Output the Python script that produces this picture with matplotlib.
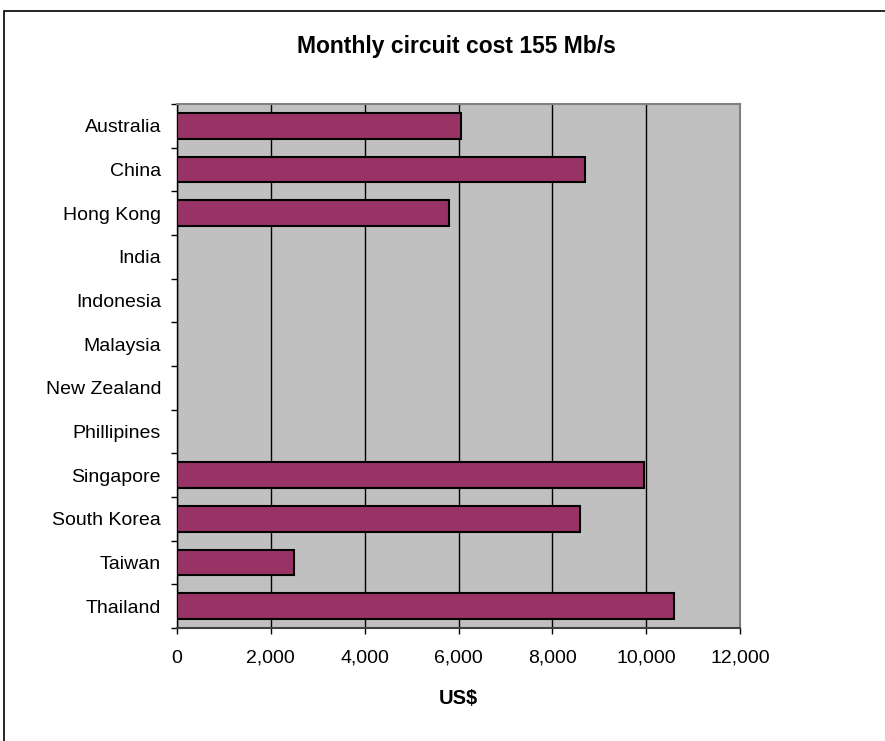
import numpy as np
import matplotlib
matplotlib.use("Agg")
import matplotlib.pyplot as plt
from matplotlib.patches import Rectangle

plt.rcParams['font.family'] = ['Liberation Sans', 'DejaVu Sans']

countries = ["Australia", "China", "Hong Kong", "India", "Indonesia", "Malaysia",
             "New Zealand", "Phillipines", "Singapore", "South Korea", "Taiwan", "Thailand"]
cost_usd = [6050, 8700, 5800, np.nan, np.nan, np.nan,
            np.nan, np.nan, 9950, 8600, 2500, 10600]
x_ticks = [0, 2000, 4000, 6000, 8000, 10000, 12000]

fig = plt.figure(figsize=(8.85, 7.41), dpi=100)
W, H = 885, 741
ax = fig.add_axes([177 / W, 1 - 628 / H, (740 - 177) / W, (628 - 104) / H])
ax.set_facecolor("#C0C0C0")

y = np.arange(len(countries))
ax.barh(y, cost_usd, height=0.59, color="#993366", edgecolor="black", linewidth=1.5, zorder=3)

ax.set_xlim(0, 12000)
ax.set_ylim(len(countries) - 0.5, -0.5)
ax.set_xticks(x_ticks)
ax.set_xticklabels([f"{v:,}" for v in x_ticks], fontsize=14)
ax.set_yticks(y)
ax.set_yticklabels(countries, fontsize=14)
ax.tick_params(axis='y', length=0, pad=11.5)
ax.tick_params(axis='x', length=4.5, width=1, direction='out', pad=11)
# category boundary ticks on the value axis
ax.set_yticks(np.arange(-0.5, len(countries)), minor=True)
ax.tick_params(axis='y', which='minor', length=4.5, width=1, direction='out')

ax.xaxis.grid(True, color="black", linewidth=1, zorder=1)
ax.set_axisbelow(True)
for s in ["top", "right"]:
    ax.spines[s].set_color("#808080")
    ax.spines[s].set_linewidth(1.5)
ax.spines["left"].set_color("black")
ax.spines["bottom"].set_color("#404040")
ax.spines["left"].set_linewidth(1)
ax.spines["bottom"].set_linewidth(1.5)

ax.set_xlabel("US$", fontsize=14.5, fontweight="bold", labelpad=16)
fig.text(456 / W, 1 - 46 / H, "Monthly circuit cost 155 Mb/s", ha="center", va="center",
         fontsize=16.5, fontweight="bold")

# chart area frame
fig.patches.append(Rectangle((4 / W, -0.1), 1.2, 1 - 11 / H + 0.1, transform=fig.transFigure,
                             fill=False, edgecolor="black", linewidth=1.2))

fig.savefig("out.png", dpi=100)
